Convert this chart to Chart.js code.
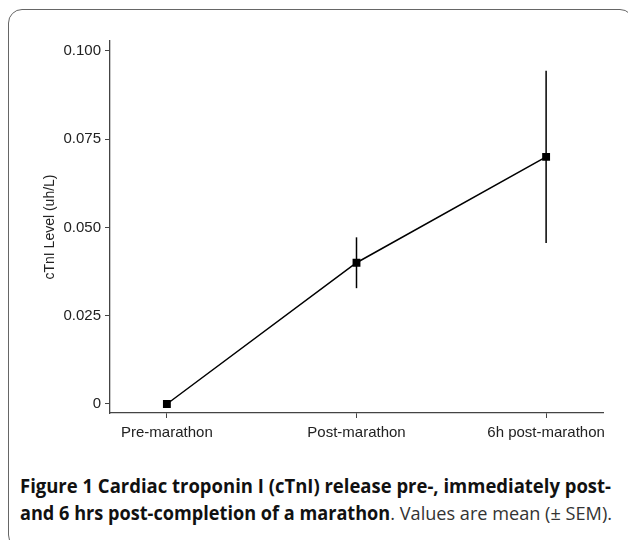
<!DOCTYPE html>
<html>
<head>
<meta charset="utf-8">
<script src="https://cdn.jsdelivr.net/npm/chart.js@4"></script>
<style>
  html, body { margin:0; padding:0; background:#fff; }
  body { width:628px; height:540px; position:relative; overflow:hidden; }
  #frame { position:absolute; left:8px; top:9px; width:626px; height:540px; border:1.3px solid #666; border-radius:14px; box-sizing:border-box; }
  #wrap { position:absolute; left:0; top:0; width:628px; height:440px; }
  .cap { position:absolute; left:20px; font-family:"Open Sans", "Noto Sans", sans-serif; font-size:19px; line-height:26px; color:#111; white-space:nowrap; transform-origin:0 0; }
  .cap b { font-weight:700; }
  .cap span { font-weight:400; color:#333; }
</style>
</head>
<body>
<div id="frame"></div>
<div id="wrap"><canvas id="c" width="628" height="440"></canvas></div>
<div class="cap" id="cap1" style="top:473px;"><b>Figure 1</b> <b>Cardiac troponin I (cTnI) release pre-, immediately post-</b></div>
<div class="cap" id="cap2" style="top:500px;"><b>and 6 hrs post-completion of a marathon</b><span>. Values are mean (± SEM).</span></div>
<script>
const categories = ["Pre-marathon", "Post-marathon", "6h post-marathon"];
const meanValues = [0.000, 0.040, 0.070];
const semValues = [0.000, 0.0072, 0.0244];
const yTickValues = [0, 0.025, 0.050, 0.075, 0.100];
const yAxisTitle = "cTnI Level (uh/L)";

function fit(id, w) {
  const el = document.getElementById(id);
  const cw = el.getBoundingClientRect().width;
  el.style.transform = 'scaleX(' + (w / cw) + ')';
}
fit('cap1', 591);
fit('cap2', 592);

const errorBars = {
  id: 'errorBars',
  afterDatasetsDraw(chart) {
    const ctx = chart.ctx, xs = chart.scales.x, ys = chart.scales.y;
    ctx.save();
    ctx.strokeStyle = '#000';
    ctx.lineWidth = 1.5;
    meanValues.forEach((m, i) => {
      const s = semValues[i];
      if (!s) return;
      const px = xs.getPixelForValue(i);
      ctx.beginPath();
      ctx.moveTo(px, ys.getPixelForValue(m + s));
      ctx.lineTo(px, ys.getPixelForValue(m - s));
      ctx.stroke();
    });
    ctx.restore();
  }
};

const tickFont = { family: "'Liberation Sans', Arial, sans-serif", size: 15 };
new Chart(document.getElementById('c'), {
  type: 'line',
  data: {
    datasets: [{
      data: meanValues.map((v, i) => ({ x: i, y: v })),
      borderColor: '#000',
      borderWidth: 1.5,
      backgroundColor: '#000',
      pointStyle: 'rect',
      pointRadius: 4.5,
      pointHoverRadius: 4.5,
      tension: 0
    }]
  },
  options: {
    responsive: false,
    animation: false,
    events: [],
    layout: { padding: { left: 42, right: 25, top: 41, bottom: 0 } },
    plugins: { legend: { display: false }, tooltip: { enabled: false } },
    scales: {
      x: {
        type: 'linear',
        min: -0.3, max: 2.3,
        afterBuildTicks: (s) => { s.ticks = categories.map((c, i) => ({ value: i })); },
        afterFit: (s) => { s.height = 27; },
        ticks: { color: '#222', font: tickFont, padding: 6, maxRotation: 0, autoSkip: false,
                 callback: (v) => categories[v] },
        grid: { drawOnChartArea: false, tickLength: 5, color: '#444', lineWidth: 1 },
        border: { color: '#444', width: 1.3 }
      },
      y: {
        min: -0.00255, max: 0.1028,
        afterBuildTicks: (s) => { s.ticks = yTickValues.map(v => ({ value: v })); },
        afterFit: (s) => { s.width = 68; },
        ticks: { color: '#222', font: tickFont, padding: 4,
                 callback: (v) => v === 0 ? '0' : v.toFixed(3) },
        grid: { drawOnChartArea: false, tickLength: 5, color: '#444', lineWidth: 1 },
        border: { color: '#444', width: 1.3 },
        title: { display: true, text: yAxisTitle, color: '#222',
                 font: { family: "'Liberation Sans', Arial, sans-serif", size: 14 }, padding: { top: 0, bottom: 0 } }
      }
    }
  },
  plugins: [errorBars]
});
</script>
</body>
</html>
